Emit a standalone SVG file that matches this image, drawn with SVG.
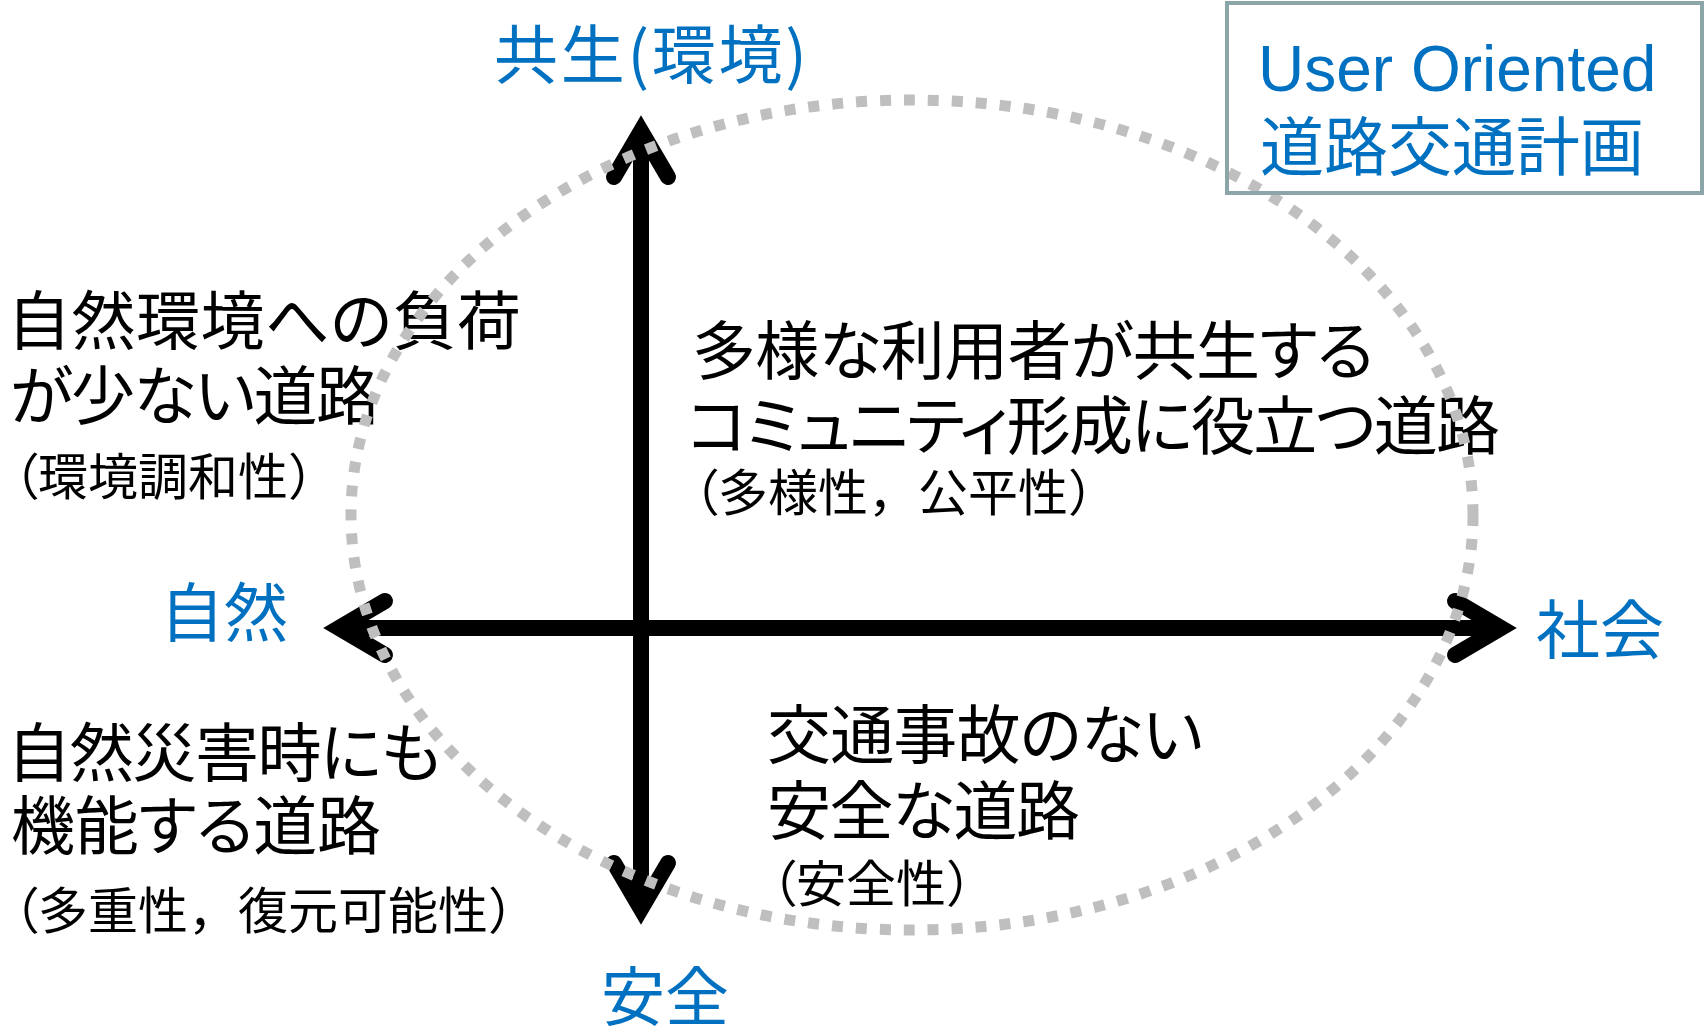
<svg xmlns="http://www.w3.org/2000/svg" width="1704" height="1029" viewBox="0 0 1704 1029">
<style>
.blk{font-family:"Noto Sans CJK JP","Noto Sans CJK SC",sans-serif;fill:#000;}
.big{font-size:64px;font-feature-settings:"palt";}
.sml{font-size:50px;}
.pa{font-feature-settings:"palt";}
.blue{font-family:"Noto Sans CJK JP","Noto Sans CJK SC",sans-serif;fill:#0070C0;font-size:64px;}
.lat{font-family:"Liberation Sans",Arial,sans-serif;fill:#0070C0;font-size:64px;}
.axis{stroke:#000;stroke-width:16;fill:none;marker-start:url(#arr);marker-end:url(#arr);}
</style>
<defs>
<marker id="arr" markerUnits="userSpaceOnUse" viewBox="-60 -45 90 90" markerWidth="90" markerHeight="90" refX="0" refY="0" orient="auto-start-reverse" overflow="visible">
<path d="M -42 -27 L 4 0 L -42 27" fill="none" stroke="#000" stroke-width="16" stroke-linecap="round" stroke-linejoin="miter"/>
</marker>
</defs>
<rect width="1704" height="1029" fill="#fff"/>

<g id="connectors">
<line class="axis" x1="343" y1="628" x2="1497" y2="628"/>
<line class="axis" x1="641" y1="135" x2="641" y2="905"/>
</g>

<g id="label-kyosei"><text class="blue" x="494" y="78" textLength="313">共生(環境)</text></g>
<g id="label-shizen"><text class="blue" x="160" y="636">自然</text></g>
<g id="label-shakai"><text class="blue" x="1536" y="653">社会</text></g>
<g id="label-anzen"><text class="blue" x="601" y="1020">安全</text></g>

<g id="quad-upper-left">
<text class="blk big" x="7" y="344" textLength="514">自然環境への負荷</text>
<text class="blk big" x="10" y="419" textLength="370">が少ない道路</text>
<text class="blk sml" x="13" y="495"><tspan class="pa">（</tspan>環境調和性）</text>
</g>

<g id="quad-upper-right">
<text class="blk big" x="692" y="374" textLength="682">多様な利用者が共生する</text>
<text class="blk big" x="687" y="449" textLength="813">コミュニティ形成に役立つ道路</text>
<text class="blk sml" x="693" y="511"><tspan class="pa">（</tspan>多様性，公平性）</text>
</g>

<g id="quad-lower-left">
<text class="blk big" x="7" y="776" textLength="434">自然災害時にも</text>
<text class="blk big" x="11" y="849" textLength="370">機能する道路</text>
<text class="blk sml" x="13" y="929"><tspan class="pa">（</tspan>多重性，復元可能性）</text>
</g>

<g id="quad-lower-right">
<text class="blk big" x="767" y="758" textLength="436">交通事故のない</text>
<text class="blk big" x="767" y="834" textLength="313">安全な道路</text>
<text class="blk sml" x="771" y="902"><tspan class="pa">（</tspan>安全性）</text>
</g>

<g id="ellipse">
<ellipse cx="912" cy="515" rx="561" ry="415" fill="none" stroke="#BFBFBF" stroke-width="11" stroke-dasharray="11 13"/>
</g>

<g id="title-box">
<rect x="1227" y="3" width="475" height="190" fill="none" stroke="#8CA5A8" stroke-width="4"/>
<text class="lat" x="1258" y="91">User Oriented</text>
<text class="blue" x="1260" y="170">道路交通計画</text>
</g>
</svg>
